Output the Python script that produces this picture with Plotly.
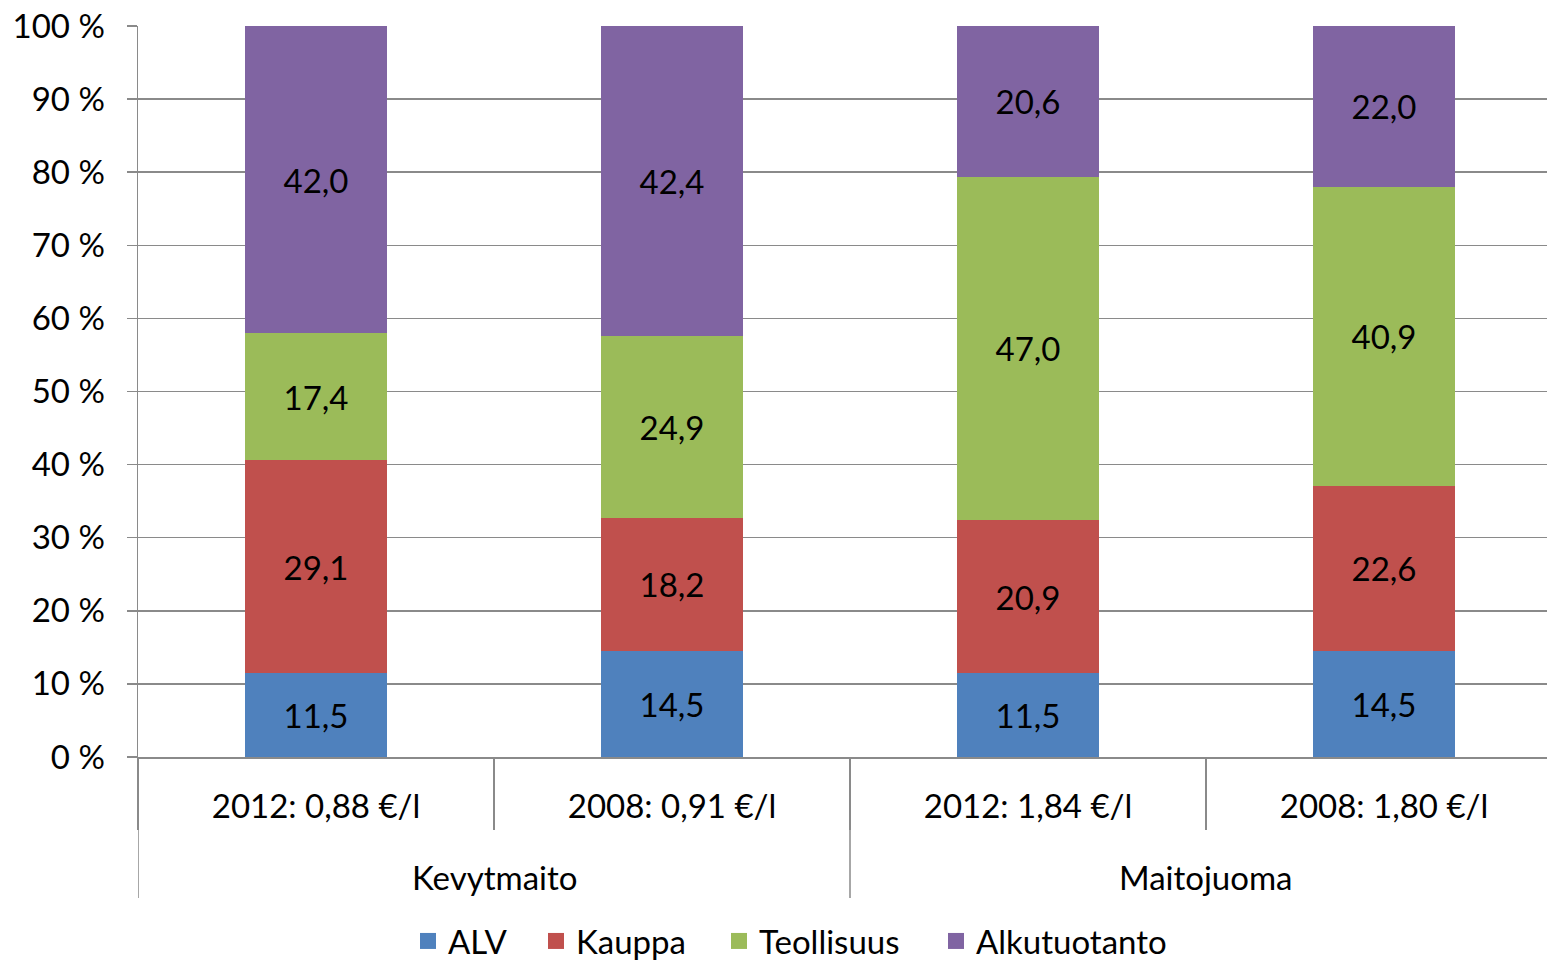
import plotly.graph_objects as go

categories = ["2012: 0,88 €/l", "2008: 0,91 €/l", "2012: 1,84 €/l", "2008: 1,80 €/l"]
groups = ["Kevytmaito", "Maitojuoma"]
series_names = ["ALV", "Kauppa", "Teollisuus", "Alkutuotanto"]
alv = [11.5, 14.5, 11.5, 14.5]
kauppa = [29.1, 18.2, 20.9, 22.6]
teollisuus = [17.4, 24.9, 47.0, 40.9]
alkutuotanto = [42.0, 42.4, 20.6, 22.0]
colors = ["#4F81BD", "#C0504D", "#9BBB59", "#8064A2"]
y_ticks = [0, 10, 20, 30, 40, 50, 60, 70, 80, 90, 100]

FONT = "Lato"
FS = 33
GRID = "#8a8a8a"

W, H = 1547, 960
L, T = 138, 26
B = H - 757
plot_h = H - T - B
plot_w = W - L

fig = go.Figure()
for name, vals, col in zip(series_names, [alv, kauppa, teollisuus, alkutuotanto], colors):
    fig.add_trace(go.Bar(
        x=categories, y=vals, name=name,
        marker=dict(color=col, line=dict(width=0)),
        texttemplate="%{y:.1f}", textposition="inside", insidetextanchor="middle",
        textangle=0, constraintext="none",
        textfont=dict(family=FONT, size=FS, color="black"),
        hoverinfo="skip", showlegend=False,
    ))

# legend keys (one legend per entry to mimic the source spacing)
legend_left_px = [420, 548, 731, 948]
legend_cfg = {}
for i, (name, col, lx) in enumerate(zip(series_names, colors, legend_left_px)):
    lname = "legend" if i == 0 else f"legend{i + 1}"
    fig.add_trace(go.Scatter(
        x=[None], y=[None], mode="markers", name=name,
        marker=dict(symbol="square", size=20, color=col),
        hoverinfo="skip", showlegend=True, legend=lname,
    ))
    legend_cfg[lname] = dict(
        orientation="h", xref="container", x=(lx - 12) / W, xanchor="left",
        yref="container", y=(H - 941) / H, yanchor="middle",
        font=dict(family=FONT, size=FS, color="black"),
        itemsizing="trace", bgcolor="rgba(0,0,0,0)",
    )

fig.update_layout(
    width=W, height=H,
    barmode="stack", bargap=0.6,
    separators=", ",
    plot_bgcolor="white", paper_bgcolor="white",
    margin=dict(l=L, r=0, t=T, b=B, pad=0, autoexpand=False),
    font=dict(family=FONT, size=FS, color="black"),
    showlegend=True,
    **legend_cfg,
)

fig.update_xaxes(
    type="category",
    range=[-0.5, 3.5 - 15 / 356],
    showline=True, linecolor=GRID, linewidth=1.5,
    ticks="outside", tickson="boundaries", ticklen=71, tickcolor=GRID, tickwidth=1.5,
    ticklabelstandoff=20,
    showgrid=False, zeroline=False, automargin=False,
    tickfont=dict(family=FONT, size=FS, color="black"),
)
fig.update_yaxes(
    range=[0, 100], tickmode="array", tickvals=y_ticks,
    ticktext=[f"{v} %" for v in y_ticks],
    showline=True, linecolor=GRID, linewidth=1.5,
    ticks="outside", ticklen=10, tickcolor=GRID, tickwidth=1.5,
    ticklabelstandoff=15, ticklabeloverflow="allow",
    showgrid=True, gridcolor=GRID, gridwidth=1.5, zeroline=False, automargin=False,
    tickfont=dict(family=FONT, size=FS, color="black"),
)

# long group separators
bottom = -(898 - 757) / plot_h
for xb in [-0.5, 1.5]:
    fig.add_shape(type="line", xref="x", yref="paper", x0=xb, x1=xb, y0=0, y1=bottom,
                  line=dict(color=GRID, width=1.5))

# group labels
for i, g in enumerate(groups):
    fig.add_annotation(x=2 * i + 0.5, xref="x", y=-(877 - 757) / plot_h, yref="paper",
                       text=g, showarrow=False, yanchor="middle",
                       font=dict(family=FONT, size=FS, color="black"))

fig.write_html(
    "out.html",
    config={"displayModeBar": False, "staticPlot": True},
    post_script="document.body.style.margin='0';document.body.style.overflow='hidden';",
)
